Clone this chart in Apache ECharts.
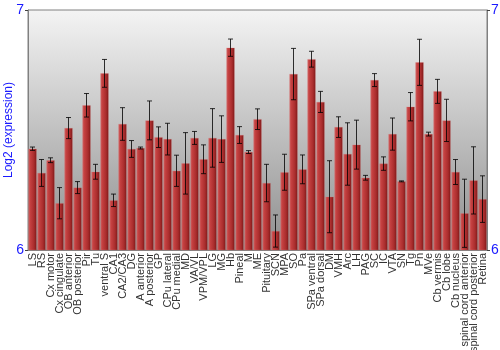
<!DOCTYPE html>
<html>
<head>
<meta charset="utf-8">
<script src="https://cdn.jsdelivr.net/npm/echarts@6/dist/echarts.min.js"></script>
<style>html,body{margin:0;padding:0;background:#fff}#c{width:500px;height:350px}</style>
</head>
<body>
<div id="c"></div>
<script>
var categories = ["LS","RS","Cx motor","Cx cingulate","OB anterior","OB posterior","Pir","Tu","ventral S","CA1","CA2/CA3","DG","A anterior","A posterior","GP","CPu lateral","CPu medial","MD","VA/VL","VPM/VPL","LG","MG","Hb","Pineal","M","ME","Pituitary","SCN","MPA","SO","Pa","SPa ventral","SPa dorsal","DM","VMH","Arc","LH","PAG","SC","IC","VTA","SN","Tg","Pn","MVe","Cb vermis","Cb lobe","Cb nucleus","spinal cord anterior","spinal cord posterior","Retina"];
var means = [6.422,6.321,6.374,6.195,6.508,6.260,6.603,6.326,6.736,6.207,6.525,6.421,6.425,6.540,6.470,6.462,6.330,6.361,6.467,6.378,6.467,6.462,6.843,6.479,6.408,6.545,6.279,6.079,6.324,6.733,6.336,6.795,6.617,6.222,6.512,6.400,6.439,6.301,6.708,6.360,6.483,6.286,6.597,6.782,6.483,6.661,6.540,6.325,6.153,6.290,6.212];
var errors = [0.007,0.056,0.010,0.065,0.044,0.025,0.049,0.031,0.058,0.026,0.068,0.035,0.004,0.081,0.043,0.066,0.065,0.128,0.027,0.060,0.122,0.097,0.036,0.035,0.006,0.043,0.078,0.067,0.075,0.107,0.060,0.033,0.044,0.150,0.043,0.130,0.102,0.010,0.027,0.028,0.067,0.002,0.059,0.096,0.008,0.050,0.088,0.052,0.142,0.140,0.097];
var yTicks = [6, 7];

var chart = echarts.init(document.getElementById('c'), null, {renderer:'canvas'});
var errData = means.map(function(m,i){ return [i, m - errors[i], m + errors[i]]; });
var blue = '#1a1aff';
var yAxisCommon = {
  type:'value', min:yTicks[0], max:yTicks[yTicks.length-1], interval:1,
  axisLine:{show:true, lineStyle:{color:'#808080'}},
  axisTick:{show:true, length:3, lineStyle:{color:'#404040'}},
  splitLine:{show:false},
  axisLabel:{color:blue, fontSize:14, fontFamily:'Liberation Sans, Arial', margin:4}
};
chart.setOption({
  animation:false,
  textStyle:{fontFamily:'Liberation Sans, Arial'},
  grid:{left:28, right:13, top:10, bottom:100, outerBoundsMode:'none', containLabel:false, show:true, borderColor:'#808080', borderWidth:1,
    backgroundColor:{type:'linear', x:0, y:0, x2:0, y2:1, colorStops:[{offset:0,color:'#f4f4f4'},{offset:1,color:'#8e8e8e'}]}},
  xAxis:{type:'category', data:categories,
    axisLine:{show:true, lineStyle:{color:'#808080'}}, axisTick:{show:false},
    axisLabel:{interval:0, rotate:90, fontSize:11, color:'#333', margin:3, fontFamily:'Liberation Sans, Arial'}},
  yAxis:[
    Object.assign({}, yAxisCommon, {position:'left', name:'Log2 (expression)', nameLocation:'middle', nameGap:13, nameMoveOverlap:false,
      nameTextStyle:{color:blue, fontSize:12, fontFamily:'Liberation Sans, Arial'}}),
    Object.assign({}, yAxisCommon, {position:'right'})
  ],
  series:[
    {type:'bar', data:means, barCategoryGap:'8%',
      itemStyle:{color:{type:'linear', x:0, y:0, x2:1, y2:0, colorStops:[
        {offset:0,color:'#d06464'},{offset:0.25,color:'#c44040'},{offset:0.7,color:'#a82c2c'},{offset:1,color:'#7a1414'}]},
        borderColor:'rgba(220,120,120,0.5)', borderWidth:0.5}},
    {type:'custom', data:errData, z:10,
      renderItem:function(params, api){
        var x = api.value(0);
        var lo = api.coord([x, api.value(1)]);
        var hi = api.coord([x, api.value(2)]);
        var cx = lo[0];
        var hw = 2.5;
        var st = {stroke:'rgba(0,0,0,0.8)', lineWidth:1};
        return {type:'group', children:[
          {type:'line', shape:{x1:cx, y1:hi[1], x2:cx, y2:lo[1]}, style:st},
          {type:'line', shape:{x1:cx-hw, y1:hi[1], x2:cx+hw, y2:hi[1]}, style:st},
          {type:'line', shape:{x1:cx-hw, y1:lo[1], x2:cx+hw, y2:lo[1]}, style:st}
        ]};
      }}
  ]
});
</script>
</body>
</html>
